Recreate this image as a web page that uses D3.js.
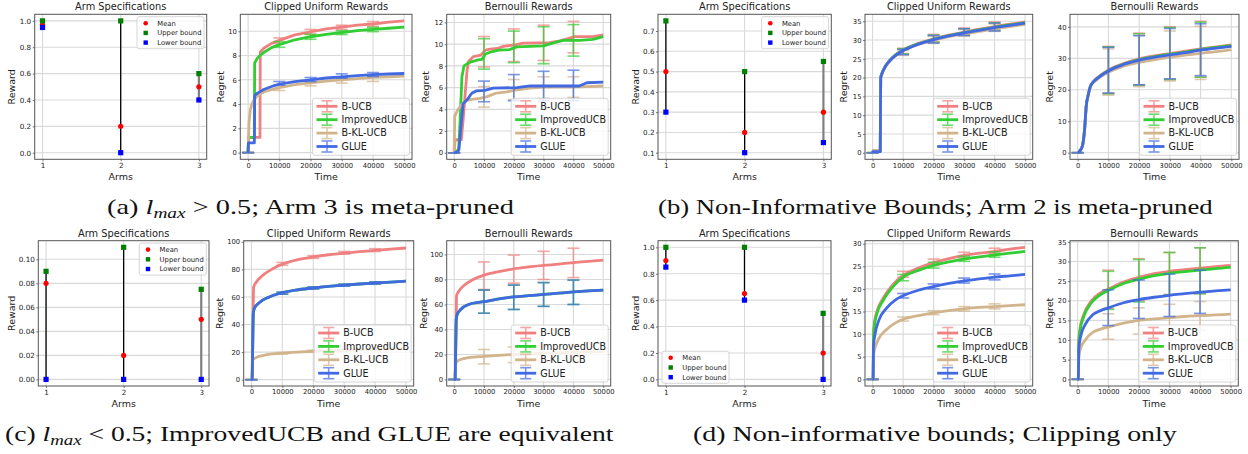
<!DOCTYPE html>
<html><head><meta charset="utf-8">
<script src="https://cdn.jsdelivr.net/npm/d3@7"></script>
<style>
body{margin:0;background:#fff}
svg text{font-family:"DejaVu Sans",sans-serif;fill:#222}
</style>
</head><body>
<svg id="fig" width="1248" height="454"></svg>
<script>
var ARMS = [1, 2, 3];
var ALGOS = ["B-UCB", "ImprovedUCB", "B-KL-UCB", "GLUE"];
var ALGO_COLORS = ["#f08080", "#32cd32", "#d2b48c", "#4169e1"];
var ERR_T = [0, 10000, 20000, 30000, 40000];
var TIME_TICKS = [0, 10000, 20000, 30000, 40000, 50000];

// arm specifications (mean, upper bound, lower bound per arm)
var aMean = [0.97, 0.2, 0.5],  aUpper = [1.0, 1.0, 0.6],   aLower = [0.95, 0.0, 0.4];
var bMean = [0.5, 0.2, 0.3],   bUpper = [0.75, 0.5, 0.55], bLower = [0.3, 0.1, 0.15];
var cMean = [0.08, 0.02, 0.05], cUpper = [0.09, 0.11, 0.075], cLower = [0, 0, 0];
var dMean = [0.9, 0.65, 0.2],  dUpper = [1.0, 1.0, 0.5],   dLower = [0.85, 0.6, 0.0];

// regret curves [time, regret], order: B-UCB, ImprovedUCB, B-KL-UCB, GLUE
var aClipCurves = [
  [[0,0],[150,1.25],[3800,1.25],[3900,8.3],[5000,8.6],[7500,9.0],[10000,9.25],[15000,9.7],[20000,9.95],[25000,10.2],[30000,10.35],[35000,10.5],[40000,10.6],[45000,10.75],[50000,10.85]],
  [[0,0],[150,1.25],[2000,1.25],[2100,7.4],[3000,7.8],[4000,8.05],[5000,8.25],[7500,8.65],[10000,8.9],[15000,9.3],[20000,9.55],[25000,9.75],[30000,9.9],[35000,10.05],[40000,10.15],[45000,10.25],[50000,10.35]],
  [[0,0],[100,1.0],[300,2.5],[700,3.5],[1200,4.0],[2000,4.4],[3000,4.7],[5000,5.0],[7500,5.2],[10000,5.35],[15000,5.6],[20000,5.75],[25000,5.9],[30000,6.0],[35000,6.1],[40000,6.2],[45000,6.25],[50000,6.3]],
  [[0,0],[100,0.8],[2000,0.8],[2100,4.7],[3000,4.9],[4000,5.05],[5000,5.2],[7500,5.45],[10000,5.65],[15000,5.85],[20000,6.0],[25000,6.15],[30000,6.25],[35000,6.35],[40000,6.42],[45000,6.48],[50000,6.52]]
];
var aClipErr = [
  [[0,0],[9.0,9.45],[9.75,10.15],[10.15,10.5],[10.4,10.8]],
  [[0,0],[8.68,9.15],[9.34,9.75],[9.73,10.05],[9.97,10.33]],
  [[0,0],[5.12,5.53],[5.5,5.8],[5.73,6.08],[5.86,6.27]],
  [[0,0],[5.56,5.86],[5.86,6.19],[6.14,6.49],[6.27,6.6]]
];
var aBernCurves = [
  [[0,0],[300,1.2],[2400,1.2],[3000,3.0],[3500,4.7],[4300,7.5],[4800,8.4],[6400,8.85],[9000,9.0],[10500,9.45],[12000,9.55],[14500,9.6],[16500,9.8],[21000,9.95],[23000,10.1],[32000,10.15],[35500,10.3],[40500,10.7],[46500,10.7],[50000,10.85]],
  [[0,0],[1500,0.3],[2000,3],[2600,7.0],[3300,8.0],[4700,8.25],[6000,8.4],[8000,8.55],[9300,8.6],[10500,9.1],[12500,9.3],[15000,9.45],[18500,9.5],[21000,9.75],[25500,9.8],[30000,9.85],[33000,10.1],[36500,10.35],[42000,10.35],[46500,10.45],[50000,10.7]],
  [[0,0],[200,3.4],[1300,4.0],[3000,4.6],[5200,4.9],[8600,5.0],[10800,5.15],[14200,5.5],[17600,5.6],[21000,5.8],[25400,5.95],[30000,6.05],[38800,6.05],[44400,6.1],[50000,6.15]],
  [[0,0],[1300,0.1],[1600,0.3],[2300,2.5],[3000,4.5],[4000,4.8],[4700,5.0],[5400,5.3],[6000,5.5],[7500,5.7],[10300,5.75],[13000,5.95],[21000,6.0],[25500,6.15],[42000,6.15],[44500,6.45],[50000,6.5]]
];
var aBernErr = [
  [[0,0],[7.9,10.7],[8.4,11.4],[8.5,11.75],[9.2,12.1]],
  [[0,0],[7.7,10.5],[8.3,11.2],[8.2,11.6],[8.9,11.8]],
  [[0,0],[4.2,6.1],[4.9,6.75],[5.0,7.0],[5.1,7.0]],
  [[0,0],[4.7,6.6],[4.8,7.2],[4.8,7.5],[4.8,7.6]]
];
var bClipCurves = [
  [[0,0],[100,0.3],[2500,0.3],[2650,20.0],[3000,21.0],[4000,22.8],[5000,24.0],[6000,25.0],[8000,26.4],[10000,27.4],[15000,29.1],[20000,30.3],[25000,31.3],[30000,32.1],[35000,32.9],[40000,33.6],[45000,34.2],[50000,34.8]],
  [[0,0],[100,0.3],[2500,0.3],[2650,20.0],[3000,21.0],[4000,22.7],[5000,23.9],[6000,24.9],[8000,26.3],[10000,27.3],[15000,29.0],[20000,30.2],[25000,31.2],[30000,32.0],[35000,32.7],[40000,33.4],[45000,34.0],[50000,34.6]],
  [[0,0],[100,0.6],[2500,0.6],[2650,19.8],[3000,20.8],[4000,22.6],[5000,23.8],[6000,24.7],[8000,26.1],[10000,27.1],[15000,28.8],[20000,29.9],[25000,30.9],[30000,31.6],[35000,32.3],[40000,33.0],[45000,33.6],[50000,34.2]],
  [[0,0],[100,0.3],[2500,0.3],[2650,19.9],[3000,20.9],[4000,22.7],[5000,23.9],[6000,24.8],[8000,26.2],[10000,27.2],[15000,28.9],[20000,30.1],[25000,31.1],[30000,31.9],[35000,32.6],[40000,33.3],[45000,33.9],[50000,34.5]]
];
var bClipErr = [
  [[0,0],[26.4,27.8],[29.5,31.5],[31.4,33.2],[32.7,34.8]],
  [[0,0],[26.3,27.7],[29.4,31.3],[31.3,33.0],[32.6,34.6]],
  [[0,0],[25.9,27.4],[29.1,31.0],[31.0,32.8],[32.3,34.3]],
  [[0,0],[26.1,27.5],[29.2,31.2],[31.2,33.0],[32.4,34.5]]
];
var bBernCurves = [
  [[0,0],[100,0],[650,0.5],[1500,2.0],[2300,8],[2800,15],[3350,18],[4100,21],[5000,22.5],[6600,24],[8700,25.5],[10000,26.3],[14000,28],[20000,29.8],[26500,31.0],[35000,32.3],[40000,33.0],[46500,33.8],[50000,34.3]],
  [[0,0],[100,0],[650,0.5],[1500,2.0],[2300,8],[2800,15],[3350,18],[4100,21],[5000,22.4],[6600,23.9],[8700,25.3],[10000,26.1],[14000,27.8],[20000,29.6],[26500,30.8],[35000,32.0],[40000,32.8],[46500,33.6],[50000,34.0]],
  [[0,0],[100,0],[650,0.5],[1500,2.0],[2300,8],[2800,15],[3350,18],[4100,20.8],[5000,22.2],[6600,23.5],[8700,24.9],[10000,25.6],[14000,27.2],[20000,28.7],[26500,29.8],[35000,31.0],[40000,31.6],[46500,32.3],[50000,32.8]],
  [[0,0],[100,0],[650,0.5],[1500,2.0],[2300,8],[2800,15],[3350,18],[4100,21],[5000,22.4],[6600,23.8],[8700,25.2],[10000,26.0],[14000,27.7],[20000,29.4],[26500,30.6],[35000,31.8],[40000,32.6],[46500,33.4],[50000,33.8]]
];
var bBernErr = [
  [[0,0],[18.8,33.8],[21.5,38.0],[23.3,40.0],[24.0,41.8]],
  [[0,0],[18.7,33.6],[21.4,37.8],[23.2,39.8],[24.0,41.5]],
  [[0,0],[18.3,33.0],[21.0,37.3],[22.8,38.7],[23.3,40.2]],
  [[0,0],[19.0,33.5],[21.6,37.2],[23.5,39.5],[24.5,41.0]]
];
var cClipCurves = [
  [[0,0],[200,0],[600,55],[700,67],[1500,70.5],[3600,75.5],[6900,80.5],[10000,83.8],[15000,87],[20000,89],[25000,90.6],[30000,91.8],[35000,92.8],[40000,93.8],[45000,94.7],[50000,95.5]],
  [[0,0],[200,0],[600,48],[1000,52],[2600,56],[5800,60],[9000,62.5],[14400,65],[20000,66.5],[25000,67.7],[30000,68.6],[35000,69.4],[40000,70.1],[45000,70.8],[50000,71.5]],
  [[0,0],[200,0],[300,14],[1500,16],[3600,17.5],[6000,18.5],[9000,19.1],[15000,20.0],[20000,20.6],[25000,21.0],[30000,21.4],[35000,21.8],[40000,22.1],[45000,22.4],[50000,22.6]],
  [[0,0],[200,0],[600,48],[1000,52],[2600,56],[5800,60],[9000,62.5],[14400,65],[20000,66.5],[25000,67.7],[30000,68.6],[35000,69.4],[40000,70.1],[45000,70.8],[50000,71.5]]
];
var cClipErr = [
  [[0,0],[83,85],[88,90],[91,93],[93,95]],
  [[0,0],[62,63.5],[65.8,67.2],[67.9,69.3],[69.4,70.8]],
  [[0,0],[18.6,19.8],[19.9,21.3],[20.6,22.2],[21.1,22.9]],
  [[0,0],[62,63.5],[65.8,67.2],[67.9,69.3],[69.4,70.8]]
];
var cBernCurves = [
  [[0,0],[300,0],[700,48],[800,67],[1400,70],[3200,75],[6400,80],[10000,83.5],[14500,86],[20000,88.5],[25000,90],[30000,91.2],[35000,92.3],[40000,93.5],[45000,94.5],[50000,95.5]],
  [[0,0],[300,0],[700,48],[1000,52],[2200,56],[4800,60],[10000,62.2],[15000,64.5],[20000,66],[25000,67],[30000,68],[35000,69],[40000,70],[45000,70.8],[50000,71.5]],
  [[0,0],[300,0],[500,13],[1600,15.5],[4800,17.5],[10000,18.5],[15000,19.3],[20000,20],[25000,20.5],[30000,21],[35000,21.4],[40000,21.7],[45000,22],[50000,22.3]],
  [[0,0],[300,0],[700,48],[1000,52],[2200,56],[4800,60],[10000,62.2],[15000,64.5],[20000,66],[25000,67],[30000,68],[35000,69],[40000,70],[45000,70.8],[50000,71.5]]
];
var cBernErr = [
  [[0,0],[72,94],[77,99.5],[80,102.5],[81.5,105]],
  [[0,0],[53,71.5],[56,75.5],[58.5,77.5],[60,79.5]],
  [[0,0],[12.5,24],[13.5,26],[14,27],[14.5,28]],
  [[0,0],[53,71.5],[56,75.5],[58.5,77.5],[60,79.5]]
];
var dClipCurves = [
  [[0,0],[150,0],[300,10],[600,12.5],[1400,15],[3500,18],[6700,21],[10000,23],[15000,24.6],[20000,25.8],[25000,26.7],[30000,27.4],[35000,27.9],[40000,28.3],[45000,28.8],[50000,29.2]],
  [[0,0],[150,0],[300,9.5],[600,12],[1400,14.5],[3500,17.5],[6700,20.5],[10000,22.6],[15000,24.1],[20000,25.2],[25000,26],[30000,26.6],[35000,27.1],[40000,27.5],[45000,27.9],[50000,28.3]],
  [[0,0],[150,0],[300,5.5],[800,7],[2000,9],[4500,11],[7500,12.5],[10000,13.3],[15000,14.1],[20000,14.7],[25000,15.2],[30000,15.6],[35000,15.9],[40000,16.1],[45000,16.3],[50000,16.5]],
  [[0,0],[150,0],[300,7.5],[800,10],[2000,13],[4500,15.7],[7500,17.6],[10000,18.5],[15000,19.7],[20000,20.5],[25000,21.2],[30000,21.8],[35000,22.2],[40000,22.6],[45000,22.9],[50000,23.2]]
];
var dClipErr = [
  [[0,0],[22.6,23.9],[25.3,26.6],[26.9,28.1],[27.8,29.0]],
  [[0,0],[21.8,23.2],[24.6,25.9],[26.1,27.2],[27.0,28.2]],
  [[0,0],[12.9,13.8],[14.3,15.2],[15.1,16.1],[15.6,16.7]],
  [[0,0],[18.0,19.0],[20.0,21.1],[21.3,22.4],[22.0,23.3]]
];
var dBernCurves = [
  [[0,0],[200,0],[400,10],[800,13],[2000,16.5],[4500,20],[7500,22],[10000,23],[15000,24.8],[20000,26],[25000,26.9],[30000,27.5],[35000,27.9],[40000,28.3],[45000,28.7],[50000,29]],
  [[0,0],[200,0],[400,9.5],[800,12.5],[2000,16],[4500,19.5],[7500,21.6],[10000,22.6],[15000,24.4],[20000,25.5],[25000,26.4],[30000,27],[35000,27.4],[40000,27.8],[45000,28.2],[50000,28.5]],
  [[0,0],[200,0],[400,6],[1000,8],[2500,10],[5000,12],[7500,12.8],[10000,13.3],[15000,14.3],[20000,15],[25000,15.4],[30000,15.7],[35000,16],[40000,16.2],[45000,16.4],[50000,16.6]],
  [[0,0],[200,0],[400,8],[1000,11],[2500,14],[5000,16.5],[7500,17.5],[10000,18.2],[15000,19.5],[20000,20.3],[25000,20.9],[30000,21.4],[35000,21.8],[40000,22.2],[45000,22.5],[50000,22.8]]
];
var dBernErr = [
  [[0,0],[18.0,27.8],[20.0,30.7],[21.6,32.3],[21.8,33.5]],
  [[0,0],[17.8,27.5],[19.7,30.5],[21.5,32.3],[21.8,33.5]],
  [[0,0],[10.2,16.7],[11.5,18.2],[12.5,19.1],[12.5,19.8]],
  [[0,0],[13.7,22.8],[15.5,25.3],[16.0,26.8],[16.8,27.8]]
];

var svg = d3.select("#fig");
var GRID = "#d9d9d9", SPINE = "#555";
var clipCount = 0;

function axesBase(o) {
    var g = svg.append("g");
    var x = d3.scaleLinear().domain(o.xDom).range([o.x0, o.x1]);
    var y = d3.scaleLinear().domain(o.yDom).range([o.y1, o.y0]);
    g.selectAll(null).data(o.xTicks).join("line")
        .attr("x1", function(d){return x(d)}).attr("x2", function(d){return x(d)})
        .attr("y1", o.y0).attr("y2", o.y1)
        .attr("stroke", GRID).attr("stroke-width", 1.1);
    g.selectAll(null).data(o.yTicks).join("line")
        .attr("y1", function(d){return y(d)}).attr("y2", function(d){return y(d)})
        .attr("x1", o.x0).attr("x2", o.x1)
        .attr("stroke", GRID).attr("stroke-width", 1.1);
    var id = "clip" + (clipCount++);
    svg.append("clipPath").attr("id", id).append("rect")
        .attr("x", o.x0).attr("y", o.y0).attr("width", o.x1 - o.x0).attr("height", o.y1 - o.y0);
    var data = g.append("g").attr("clip-path", "url(#" + id + ")");
    return {g: g, x: x, y: y, data: data};
}

function axesDecor(ax, o) {
    var g = ax.g;
    var xa = g.append("g").attr("transform", "translate(0," + o.y1 + ")")
        .call(d3.axisBottom(ax.x).tickValues(o.xTicks).tickFormat(o.xFmt)
            .tickSizeInner(2).tickSizeOuter(0).tickPadding(1.5));
    var ya = g.append("g").attr("transform", "translate(" + o.x0 + ",0)")
        .call(d3.axisLeft(ax.y).tickValues(o.yTicks).tickFormat(o.yFmt)
            .tickSizeInner(2).tickSizeOuter(0).tickPadding(1.5));
    [xa, ya].forEach(function(a){
        a.select(".domain").remove();
        a.selectAll("line").attr("stroke", SPINE).attr("stroke-width", 0.8);
        a.selectAll("text").attr("font-size", o.tickSize).attr("fill", "#333");
    });
    g.append("rect").attr("x", o.x0).attr("y", o.y0)
        .attr("width", o.x1 - o.x0).attr("height", o.y1 - o.y0)
        .attr("fill", "none").attr("stroke", SPINE).attr("stroke-width", 1);
    g.append("text").attr("x", (o.x0 + o.x1) / 2).attr("y", o.y0 - 4)
        .attr("text-anchor", "middle").attr("font-size", 9.8).text(o.title);
    g.append("text").attr("x", (o.x0 + o.x1) / 2).attr("y", o.y1 + 21)
        .attr("text-anchor", "middle").attr("font-size", 9.5).text(o.xLabel);
    g.append("text").attr("transform", "translate(" + o.yLabelX + "," + ((o.y0 + o.y1) / 2) + ") rotate(-90)")
        .attr("text-anchor", "middle").attr("dy", "0.35em").attr("font-size", 9.5).text(o.yLabel);
}

function drawArms(o, mean, upper, lower) {
    o.xDom = [0.9, 3.1]; o.xTicks = ARMS; o.xFmt = d3.format("d");
    o.title = "Arm Specifications"; o.xLabel = "Arms"; o.yLabel = "Reward"; o.tickSize = 7.2;
    var ax = axesBase(o), x = ax.x, y = ax.y;
    ARMS.forEach(function(a, i){
        ax.data.append("line").attr("x1", x(a)).attr("x2", x(a))
            .attr("y1", y(lower[i])).attr("y2", y(upper[i]))
            .attr("stroke", i == 2 ? "#808080" : "#000").attr("stroke-width", i == 2 ? 2.2 : 1.3);
    });
    ax.g.selectAll(null).data(ARMS).join("circle")
        .attr("cx", function(d){return x(d)}).attr("cy", function(d, i){return y(mean[i])})
        .attr("r", 2.6).attr("fill", "#ff0000");
    [[upper, "#008000"], [lower, "#0000ff"]].forEach(function(s){
        ax.g.selectAll(null).data(ARMS).join("rect")
            .attr("x", function(d){return x(d) - 2.6}).attr("y", function(d, i){return y(s[0][i]) - 2.6})
            .attr("width", 5.2).attr("height", 5.2).attr("fill", s[1]);
    });
    axesDecor(ax, o);
    // legend
    var lx = o.legendPos == "ll" ? o.x0 + 4 : o.x1 - 2.7 - 67;
    var ly = o.legendPos == "ll" ? o.y1 - 2.7 - 32 : o.y0 + 2.4;
    var lg = ax.g.append("g").attr("transform", "translate(" + lx + "," + ly + ")");
    lg.append("rect").attr("width", 67).attr("height", 32).attr("rx", 2)
        .attr("fill", "#fff").attr("fill-opacity", 0.8).attr("stroke", "#ccc").attr("stroke-width", 0.8);
    var items = [["Mean", "#ff0000", "c"], ["Upper bound", "#008000", "s"], ["Lower bound", "#0000ff", "s"]];
    items.forEach(function(it, i){
        var cy = 6.5 + i * 9.7;
        if (it[2] == "c") lg.append("circle").attr("cx", 8.7).attr("cy", cy).attr("r", 2.3).attr("fill", it[1]);
        else lg.append("rect").attr("x", 6.5).attr("y", cy - 2.2).attr("width", 4.4).attr("height", 4.4).attr("fill", it[1]);
        lg.append("text").attr("x", 20.3).attr("y", cy).attr("dy", "0.35em").attr("font-size", 6.8).text(it[0]);
    });
}

function drawRegret(o, curves, errs) {
    o.xDom = [-2500, 52500]; o.xTicks = TIME_TICKS; o.xFmt = d3.format("d"); o.yFmt = d3.format("d");
    o.xLabel = "Time"; o.yLabel = "Regret"; o.tickSize = 6.8;
    var ax = axesBase(o), x = ax.x, y = ax.y;
    var line = d3.line().x(function(d){return x(d[0])}).y(function(d){return y(d[1])}).curve(o.curve);
    curves.forEach(function(pts, s){
        var col = ALGO_COLORS[s];
        var eb = ax.data.append("g").attr("stroke", col).attr("stroke-width", 1.6).attr("opacity", 0.7);
        errs[s].forEach(function(e, i){
            var cx = x(ERR_T[i]);
            eb.append("line").attr("x1", cx).attr("x2", cx).attr("y1", y(e[0])).attr("y2", y(e[1]));
            eb.append("line").attr("x1", cx - 6).attr("x2", cx + 6).attr("y1", y(e[0])).attr("y2", y(e[0]));
            eb.append("line").attr("x1", cx - 6).attr("x2", cx + 6).attr("y1", y(e[1])).attr("y2", y(e[1]));
        });
        ax.data.append("path").datum(pts).attr("d", line)
            .attr("fill", "none").attr("stroke", col).attr("stroke-width", 2.8).attr("stroke-linejoin", "round");
    });
    axesDecor(ax, o);
    var lw = 97, lh = 57;
    var lg = ax.g.append("g").attr("transform", "translate(" + (o.x1 - 2.5 - lw) + "," + (o.y1 - 4 - lh) + ")");
    lg.append("rect").attr("width", lw).attr("height", lh).attr("rx", 2.5)
        .attr("fill", "#fff").attr("fill-opacity", 0.8).attr("stroke", "#ccc").attr("stroke-width", 0.8);
    ALGOS.forEach(function(name, i){
        var cy = 8 + i * 13.4, col = ALGO_COLORS[i];
        lg.append("line").attr("x1", 4).attr("x2", 25).attr("y1", cy).attr("y2", cy)
            .attr("stroke", col).attr("stroke-width", 2.8);
        var b = lg.append("g").attr("stroke", col).attr("stroke-width", 1.6).attr("opacity", 0.7);
        b.append("line").attr("x1", 14.5).attr("x2", 14.5).attr("y1", cy - 5.5).attr("y2", cy + 5.5);
        b.append("line").attr("x1", 9).attr("x2", 20).attr("y1", cy - 5.5).attr("y2", cy - 5.5);
        b.append("line").attr("x1", 9).attr("x2", 20).attr("y1", cy + 5.5).attr("y2", cy + 5.5);
        lg.append("text").attr("x", 29).attr("y", cy).attr("dy", "0.35em").attr("font-size", 9.6).text(name);
    });
}

var TOP = {y0: 14.3, y1: 159.3}, BOT = {y0: 240.7, y1: 386};
function at(row, extra) { return Object.assign({}, row, extra); }
var f1 = d3.format(".1f"), f2 = d3.format(".2f");

drawArms(at(TOP, {x0: 34.7, x1: 206.7, yDom: [-0.05, 1.05], yTicks: [0, 0.2, 0.4, 0.6, 0.8, 1.0], yFmt: f1, yLabelX: 12, legendPos: "ur"}), aMean, aUpper, aLower);
drawRegret(at(TOP, {x0: 240.3, x1: 412, yDom: [-0.55, 11.4], yTicks: [0, 2, 4, 6, 8, 10], yLabelX: 220.3, title: "Clipped Uniform Rewards", curve: d3.curveLinear}), aClipCurves, aClipErr);
drawRegret(at(TOP, {x0: 446.7, x1: 610.7, yDom: [-0.6, 12.75], yTicks: [0, 2, 4, 6, 8, 10, 12], yLabelX: 425.7, title: "Bernoulli Rewards", curve: d3.curveLinear}), aBernCurves, aBernErr);

drawArms(at(TOP, {x0: 658, x1: 831.3, yDom: [0.0675, 0.7825], yTicks: [0.1, 0.2, 0.3, 0.4, 0.5, 0.6, 0.7], yFmt: f1, yLabelX: 636, legendPos: "ur"}), bMean, bUpper, bLower);
drawRegret(at(TOP, {x0: 865, x1: 1032.7, yDom: [-1.75, 36.85], yTicks: [0, 5, 10, 15, 20, 25, 30, 35], yLabelX: 843.3, title: "Clipped Uniform Rewards", curve: d3.curveMonotoneX}), bClipCurves, bClipErr);
drawRegret(at(TOP, {x0: 1070, x1: 1239, yDom: [-2.1, 44], yTicks: [0, 10, 20, 30, 40], yLabelX: 1050, title: "Bernoulli Rewards", curve: d3.curveMonotoneX}), bBernCurves, bBernErr);

drawArms(at(BOT, {x0: 38.3, x1: 209, yDom: [-0.0055, 0.1155], yTicks: [0, 0.02, 0.04, 0.06, 0.08, 0.10], yFmt: f2, yLabelX: 12, legendPos: "ur"}), cMean, cUpper, cLower);
drawRegret(at(BOT, {x0: 243.7, x1: 413.7, yDom: [-4.6, 100.8], yTicks: [0, 20, 40, 60, 80, 100], yLabelX: 219.3, title: "Clipped Uniform Rewards", curve: d3.curveMonotoneX}), cClipCurves, cClipErr);
drawRegret(at(BOT, {x0: 446.7, x1: 610.7, yDom: [-5.2, 111], yTicks: [0, 20, 40, 60, 80, 100], yLabelX: 424, title: "Bernoulli Rewards", curve: d3.curveMonotoneX}), cBernCurves, cBernErr);

drawArms(at(BOT, {x0: 658, x1: 831, yDom: [-0.05, 1.05], yTicks: [0, 0.2, 0.4, 0.6, 0.8, 1.0], yFmt: f1, yLabelX: 636, legendPos: "ll"}), dMean, dUpper, dLower);
drawRegret(at(BOT, {x0: 865, x1: 1032.7, yDom: [-1.46, 30.66], yTicks: [0, 5, 10, 15, 20, 25, 30], yLabelX: 844, title: "Clipped Uniform Rewards", curve: d3.curveMonotoneX}), dClipCurves, dClipErr);
drawRegret(at(BOT, {x0: 1070, x1: 1238.3, yDom: [-1.7, 35.3], yTicks: [0, 5, 10, 15, 20, 25, 30, 35], yLabelX: 1049.7, title: "Bernoulli Rewards", curve: d3.curveMonotoneX}), dBernCurves, dBernErr);

// captions, stretched to the measured width in the reference
function caption(parts, xl, xr, base) {
    var t = svg.append("text").attr("y", base).attr("font-size", 20.5)
        .style("font-family", "'Liberation Serif',serif").style("fill", "#111");
    parts.forEach(function(p){
        var s = t.append("tspan").text(p[0]);
        if (p[1] == "i") s.attr("font-style", "italic");
        if (p[1] == "sub") s.attr("font-style", "italic").attr("font-size", 14).attr("dy", 4);
        if (p[1] == "up") s.attr("dy", -4);
    });
    var bb = t.node().getBBox();
    var k = (xr - xl) / bb.width;
    t.attr("transform", "translate(" + xl + ",0) scale(" + k + ",1) translate(" + (-bb.x) + ",0)");
}
caption([["(a) "], ["l", "i"], ["max", "sub"], [" > 0.5; Arm 3 is meta-pruned", "up"]], 107, 514, 214);
caption([["(b) Non-Informative Bounds; Arm 2 is meta-pruned"]], 658, 1213, 214);
caption([["(c) "], ["l", "i"], ["max", "sub"], [" < 0.5; ImprovedUCB and GLUE are equivalent", "up"]], 5, 614, 441);
caption([["(d) Non-informative bounds; Clipping only"]], 693, 1178, 441);
</script>
</body></html>
